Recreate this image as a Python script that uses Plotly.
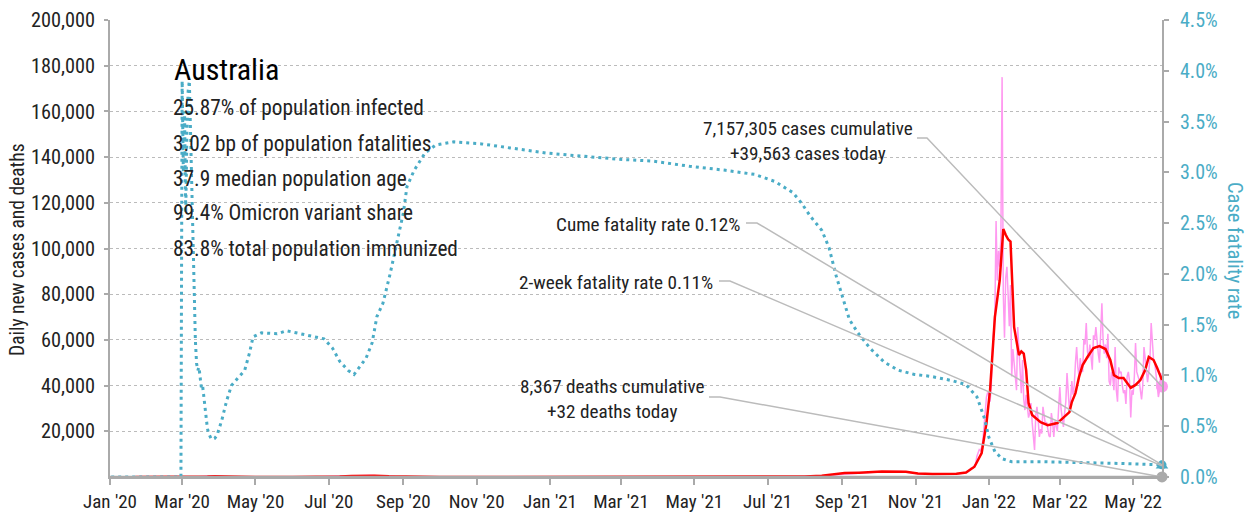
import plotly.graph_objects as go
import pandas as pd

FONT = "Liberation Sans Narrow, Arial Narrow, Roboto Condensed, sans-serif"
PINK = "#ff99f0"
RED = "#ff0000"
TEAL = "#4aacc6"
GRAY = "#aaaaaa"
TXT = "#222222"

# ---------------- data ----------------
# daily new cases (sparse before Dec 2021, daily afterwards)
pink_early_dates = ["2020-01-22", "2020-03-01", "2020-03-15", "2020-03-22", "2020-03-28", "2020-04-05",
                    "2020-04-15", "2020-05-01", "2020-06-15", "2020-07-05", "2020-07-15", "2020-07-25",
                    "2020-08-05", "2020-08-15", "2020-08-25", "2020-09-10", "2020-10-01", "2020-12-01",
                    "2021-03-01", "2021-06-01", "2021-07-10", "2021-07-25", "2021-08-10", "2021-08-25",
                    "2021-09-08", "2021-09-20", "2021-10-05", "2021-10-20", "2021-11-05", "2021-11-20"]
pink_early_values = [0, 5, 80, 350, 460, 250, 40, 15, 15, 150, 300, 500, 700, 350, 200, 80, 20, 10,
                     10, 15, 80, 150, 350, 1000, 1700, 1900, 2300, 2400, 1300, 1200]

pink_daily_start = "2021-12-01"
pink_daily_values = [
    # Dec 2021
    1400, 1450, 1500, 1350, 1200, 1300, 1450, 1500, 1600, 1750, 1700, 1750, 1800, 2100, 2700, 3000,
    3800, 4000, 3900, 5000, 5800, 9000, 11000, 12000, 11500, 13000, 16000, 22000, 28000, 35000, 37000,
    # Jan 2022
    36000, 33000, 40000, 55000, 64000, 72000, 112000, 86000, 99000, 92000, 105000, 175000, 80000, 61000,
    87000, 92000, 80000, 66000, 84000, 44000, 56000, 50000, 42000, 38000, 65600, 54000, 46000, 36700,
    51200, 34000, 29300,
    # Feb 2022
    36000, 31000, 26000, 28000, 32400, 24000, 16000, 11800, 27000, 30700, 25000, 17500, 21000, 19000,
    30700, 26000, 23000, 24000, 20600, 18000, 17500, 28000, 24000, 17500, 24500, 22000, 20000, 30000,
    # Mar 2022
    39400, 30000, 26000, 21900, 28000, 33000, 45500, 38000, 29300, 34000, 42000, 36000, 40000, 50000,
    56900, 48000, 43800, 52000, 47000, 46000, 60000, 58000, 67400, 55000, 52000, 58000, 51200, 47000,
    62000, 60000, 65600,
    # Apr 2022
    58000, 54000, 50000, 62000, 76000, 60000, 54000, 58000, 52000, 62700, 42000, 40000, 46000, 44000,
    38000, 56900, 38000, 33000, 48000, 45500, 46000, 40000, 36700, 38000, 32000, 44000, 46000, 42000,
    26000, 38000,
    # May 2022
    36000, 44000, 58600, 46000, 44000, 42400, 38000, 34000, 40000, 56900, 52000, 48000, 41500, 46000,
    52000, 67400, 58000, 51200, 50000, 45500, 42000, 35000, 38000, 45500, 39563,
]

# 7-day average of new cases
red_dates = ["2020-01-22", "2020-03-01", "2020-03-10", "2020-03-17", "2020-03-22", "2020-03-28", "2020-04-03",
             "2020-04-10", "2020-04-20", "2020-05-01", "2020-06-01", "2020-06-20", "2020-07-01", "2020-07-10",
             "2020-07-20", "2020-08-01", "2020-08-08", "2020-08-20", "2020-09-01", "2020-09-15", "2020-10-01",
             "2020-11-01", "2020-12-01", "2020-12-25", "2021-01-15", "2021-02-01", "2021-03-01", "2021-04-01",
             "2021-05-01", "2021-06-01", "2021-07-01", "2021-07-15", "2021-08-01", "2021-08-15", "2021-08-23",
             "2021-09-03", "2021-09-15", "2021-10-04", "2021-10-24", "2021-11-03", "2021-11-15", "2021-12-05",
             "2021-12-13", "2021-12-20", "2021-12-26", "2021-12-30", "2022-01-02", "2022-01-06", "2022-01-10",
             "2022-01-13", "2022-01-15", "2022-01-17", "2022-01-19", "2022-01-22", "2022-01-26", "2022-01-28",
             "2022-01-30", "2022-02-01", "2022-02-03", "2022-02-06", "2022-02-13", "2022-02-19", "2022-02-27",
             "2022-03-04", "2022-03-09", "2022-03-11", "2022-03-14", "2022-03-17", "2022-03-20", "2022-03-24",
             "2022-03-29", "2022-04-03", "2022-04-08", "2022-04-12", "2022-04-15", "2022-04-19", "2022-04-23",
             "2022-04-29", "2022-05-03", "2022-05-07", "2022-05-11", "2022-05-14", "2022-05-18", "2022-05-21",
             "2022-05-25"]
red_values = [0, 3, 15, 60, 200, 380, 300, 100, 20, 15, 10, 20, 60, 200, 400, 520, 500, 280, 120, 50, 15,
              10, 10, 20, 10, 8, 10, 10, 10, 15, 30, 100, 250, 600, 1000, 1700, 1900, 2400, 2300, 1500, 1300,
              1450, 2000, 4500, 10500, 23600, 38000, 70000, 86000, 108500, 106000, 104000, 103000, 65600,
              53400, 55000, 54000, 46800, 32400, 27100, 24000, 22700, 23600, 26000, 28400, 32800, 36700,
              43800, 49000, 52500, 56400, 57300, 56000, 51200, 44600, 43300, 43300, 39000, 40300, 42400,
              46800, 52500, 51200, 47700, 42400]

# cumulative case fatality rate, %
cfr_dates = ["2020-01-02", "2020-02-29", "2020-03-01", "2020-03-02", "2020-03-03", "2020-03-04", "2020-03-05",
             "2020-03-06", "2020-03-07", "2020-03-08", "2020-03-09", "2020-03-10", "2020-03-11", "2020-03-12",
             "2020-03-13", "2020-03-14", "2020-03-15", "2020-03-16", "2020-03-17", "2020-03-18", "2020-03-19",
             "2020-03-20", "2020-03-21", "2020-03-22", "2020-03-23", "2020-03-24", "2020-03-25", "2020-03-26",
             "2020-03-28", "2020-03-30", "2020-04-03", "2020-04-07", "2020-04-11", "2020-04-16", "2020-04-22",
             "2020-04-26", "2020-04-29", "2020-05-06", "2020-05-19", "2020-05-27", "2020-06-07", "2020-06-20",
             "2020-06-27", "2020-07-04", "2020-07-10", "2020-07-17", "2020-07-22", "2020-07-27", "2020-08-01",
             "2020-08-06", "2020-08-10", "2020-08-15", "2020-08-21", "2020-08-27", "2020-09-01", "2020-09-04",
             "2020-09-10", "2020-09-19", "2020-09-28", "2020-10-13", "2020-11-05", "2020-11-29", "2020-12-29",
             "2021-01-27", "2021-02-26", "2021-03-28", "2021-04-27", "2021-05-27", "2021-06-20", "2021-07-07",
             "2021-07-22", "2021-07-29", "2021-08-06", "2021-08-15", "2021-08-21", "2021-08-27", "2021-09-02",
             "2021-09-07", "2021-09-14", "2021-09-24", "2021-10-06", "2021-10-18", "2021-10-31", "2021-11-14",
             "2021-12-01", "2021-12-13", "2021-12-22", "2021-12-28", "2022-01-01", "2022-01-06", "2022-01-12",
             "2022-01-20", "2022-02-15", "2022-03-15", "2022-04-15", "2022-05-25"]
cfr_values = [0, 0, 3.9, 3.0, 3.6, 2.6, 3.4, 3.8, 3.9, 3.4, 2.8, 2.2, 1.7, 1.35, 1.12, 1.05, 1.08, 0.95,
              0.88, 0.90, 0.78, 0.68, 0.57, 0.48, 0.43, 0.40, 0.38, 0.37, 0.38, 0.41, 0.56, 0.75, 0.90, 0.97,
              1.05, 1.22, 1.38, 1.42, 1.41, 1.44, 1.41, 1.38, 1.36, 1.27, 1.14, 1.05, 1.01, 1.09, 1.17, 1.32,
              1.58, 1.71, 2.0, 2.33, 2.60, 2.86, 3.02, 3.19, 3.27, 3.30, 3.28, 3.24, 3.19, 3.16, 3.13, 3.11,
              3.06, 3.02, 2.98, 2.91, 2.80, 2.70, 2.56, 2.43, 2.26, 1.98, 1.74, 1.55, 1.42, 1.27, 1.13, 1.05,
              1.01, 0.99, 0.95, 0.91, 0.79, 0.59, 0.39, 0.25, 0.18, 0.15, 0.15, 0.145, 0.135, 0.12]

last_date = "2022-05-25"
cases_today = 39563
deaths_today = 32
cume_cfr = 0.12
twoweek_cfr = 0.11

country = "Australia"
stats = ["25.87% of population infected", "3.02 bp of population fatalities", "37.9 median population age",
         "99.4% Omicron variant share", "83.8% total population immunized"]
cases_label = "7,157,305 cases cumulative<br>+39,563 cases today"
deaths_label = "8,367 deaths cumulative<br>+32 deaths today"
cume_label = "Cume fatality rate 0.12%"
twoweek_label = "2-week fatality rate 0.11%"

Y1_MAX = 200000
Y1_STEP = 20000
Y2_MAX = 4.5

# ---------------- figure ----------------
pink_dates = list(pd.to_datetime(pink_early_dates)) + list(
    pd.date_range(pink_daily_start, periods=len(pink_daily_values), freq="D"))
pink_values = pink_early_values + pink_daily_values

fig = go.Figure()
fig.add_trace(go.Scatter(x=pink_dates, y=pink_values, mode="lines",
                         line=dict(color=PINK, width=1.5), hoverinfo="skip"))
fig.add_trace(go.Scatter(x=red_dates, y=red_values, mode="lines",
                         line=dict(color=RED, width=2.5), hoverinfo="skip"))
fig.add_trace(go.Scatter(x=cfr_dates, y=cfr_values, mode="lines", yaxis="y2",
                         line=dict(color=TEAL, width=3, dash="3px,4px"), hoverinfo="skip"))
# end markers
fig.add_trace(go.Scatter(x=[last_date], y=[cases_today], mode="markers", cliponaxis=False,
                         marker=dict(color=PINK, size=12)))
fig.add_trace(go.Scatter(x=[last_date], y=[deaths_today], mode="markers", cliponaxis=False,
                         marker=dict(color=GRAY, size=11)))
fig.add_trace(go.Scatter(x=[last_date], y=[twoweek_cfr], mode="markers", yaxis="y2", cliponaxis=False,
                         marker=dict(color=TEAL, size=11, symbol="triangle-up")))
fig.add_trace(go.Scatter(x=[last_date], y=[cume_cfr], mode="markers", yaxis="y2", cliponaxis=False,
                         marker=dict(color=TEAL, size=9)))

L, R, T, B = 110, 88, 20, 37
W, H = 1250, 514
PW, PH = W - L - R, H - T - B


def px(xp):
    return (xp - L) / PW


def py(yp):
    return (H - B - yp) / PH


annotations = []
annotations.append(dict(x=px(172), y=py(69), text=country, font=dict(size=30, color="#000"),
                        xanchor="left", yanchor="middle"))
for i, s in enumerate(stats):
    annotations.append(dict(x=px(171), y=py(108 + 35 * i), text=s, font=dict(size=21.3, color=TXT),
                            xanchor="left", yanchor="middle"))
annotations.append(dict(x=px(808), y=py(141), text=cases_label, font=dict(size=19.2, color=TXT),
                        xanchor="center", yanchor="middle", align="center"))
annotations.append(dict(x=px(742), y=py(224), text=cume_label, font=dict(size=19.2, color=TXT),
                        xanchor="right", yanchor="middle"))
annotations.append(dict(x=px(715), y=py(282), text=twoweek_label, font=dict(size=19.2, color=TXT),
                        xanchor="right", yanchor="middle"))
annotations.append(dict(x=px(612), y=py(399), text=deaths_label, font=dict(size=19.2, color=TXT),
                        xanchor="center", yanchor="middle", align="center"))
annotations.append(dict(x=px(18), y=py(250), text="Daily new cases and deaths", textangle=-90,
                        font=dict(size=19.5, color=TXT), xanchor="center", yanchor="middle"))
annotations.append(dict(x=px(1235), y=py(250), text="Case fatality rate", textangle=90,
                        font=dict(size=20.5, color=TEAL), xanchor="center", yanchor="middle"))
for a in annotations:
    a.update(xref="paper", yref="paper", showarrow=False)

shapes = []
leaders = [((917, 138), (927, 138), cases_today / Y1_MAX),
           ((746, 223), (757, 223), cume_cfr / Y2_MAX),
           ((719, 281), (730, 281), twoweek_cfr / Y2_MAX),
           ((709, 397), (720, 397), deaths_today / Y1_MAX)]
for (x0, y0), (x1, y1), yend in leaders:
    shapes.append(dict(type="path", xref="paper", yref="paper",
                       path=f"M {px(x0)},{py(y0)} L {px(x1)},{py(y1)} L 1,{yend}",
                       line=dict(color="#bbbbbb", width=1.5)))
# heavy baseline along the time axis
shapes.append(dict(type="line", xref="paper", yref="paper", x0=0, x1=1, y0=0, y1=0,
                   line=dict(color=GRAY, width=2.5)))

fig.update_layout(
    width=W, height=H, autosize=False, margin=dict(l=L, r=R, t=T, b=B, pad=0),
    paper_bgcolor="white", plot_bgcolor="white", showlegend=False,
    font=dict(family=FONT, color=TXT, size=19),
    xaxis=dict(type="date", range=["2020-01-01", last_date], tick0="2020-01-01", dtick="M2",
               tickformat="%b '%y", showgrid=False, zeroline=False, automargin=False,
               showline=True, linecolor=GRAY, linewidth=2,
               ticks="outside", ticklen=6, tickcolor=GRAY, tickwidth=1.5,
               tickfont=dict(size=19, color=TXT), ticklabelstandoff=0),
    yaxis=dict(range=[0, Y1_MAX], tickvals=list(range(Y1_STEP, Y1_MAX + 1, Y1_STEP)), tickformat=",",
               showgrid=True, gridcolor="#bbbbbb", griddash="dot", gridwidth=1, zeroline=False,
               automargin=False, showline=True, linecolor=GRAY, linewidth=2,
               ticks="outside", ticklen=4, tickcolor=GRAY, tickwidth=1.5,
               tickfont=dict(size=20.3, color=TXT), ticklabelstandoff=5),
    yaxis2=dict(range=[0, Y2_MAX], dtick=0.5, tickformat=".1f", ticksuffix="%", overlaying="y",
                side="right", showgrid=False, zeroline=False, automargin=False,
                showline=True, linecolor=GRAY, linewidth=2,
                ticks="outside", ticklen=5, tickcolor=GRAY, tickwidth=1.5,
                tickfont=dict(size=20, color=TEAL), ticklabelstandoff=7),
    annotations=annotations, shapes=shapes,
)

post = ("document.body.style.margin='0px';document.body.style.padding='0px';"
        "document.documentElement.style.overflow='hidden';"
        "var gd=document.getElementById('{plot_id}');"
        "Plotly.relayout(gd,{width:%d,height:%d});" % (W, H))
fig.write_html("out.html", post_script=post,
               config={"responsive": False, "displayModeBar": False})
